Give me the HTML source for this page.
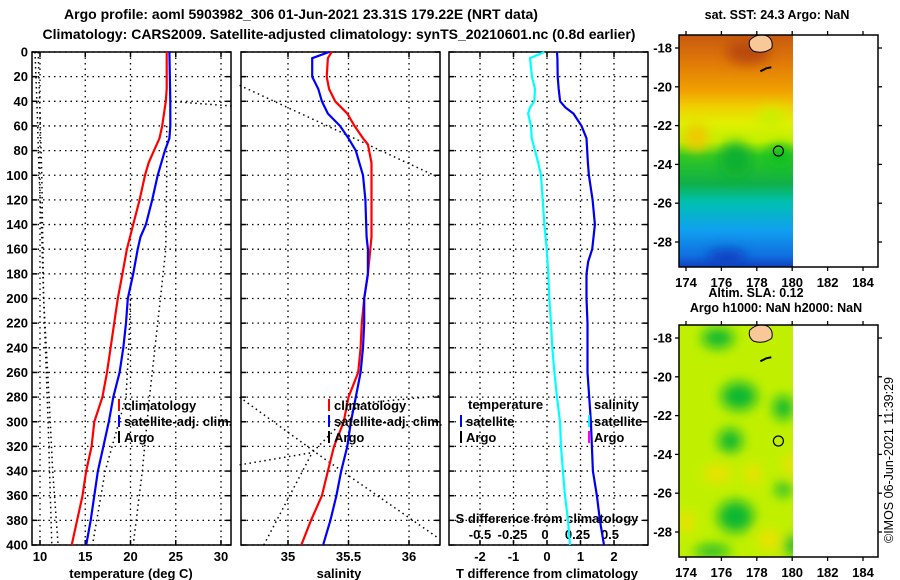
<!DOCTYPE html>
<html><head><meta charset="utf-8"><style>
html,body{margin:0;padding:0;background:#fff}
svg{display:block;font-family:"Liberation Sans",Arial,sans-serif;font-weight:bold}
</style></head><body>
<svg id="c" width="900" height="580" viewBox="0 0 900 580" xmlns="http://www.w3.org/2000/svg">
<defs>
<filter id="blr" x="-50%" y="-50%" width="200%" height="200%"><feGaussianBlur stdDeviation="6"/></filter>
<clipPath id="m1clip"><rect x="679" y="35" width="114" height="232"/></clipPath>
<clipPath id="m2clip"><rect x="679" y="325" width="114" height="232"/></clipPath>
<linearGradient id="sstg" x1="0" y1="0" x2="0" y2="1">
<stop offset="0" stop-color="#c85a10"/><stop offset="0.12" stop-color="#e07a08"/><stop offset="0.24" stop-color="#f0a000"/>
<stop offset="0.31" stop-color="#f0d000"/><stop offset="0.38" stop-color="#e0f000"/><stop offset="0.46" stop-color="#c0f000"/>
<stop offset="0.52" stop-color="#30c820"/><stop offset="0.64" stop-color="#10b048"/><stop offset="0.72" stop-color="#00c0b0"/>
<stop offset="0.84" stop-color="#10a0f0"/><stop offset="0.95" stop-color="#1070e0"/><stop offset="1" stop-color="#1040c0"/></linearGradient>
</defs>
<text x="301" y="19" text-anchor="middle" font-size="14">Argo profile: aoml 5903982_306 01-Jun-2021 23.31S 179.22E (NRT data)</text>
<text x="339" y="39" text-anchor="middle" font-size="14">Climatology: CARS2009. Satellite-adjusted climatology: synTS_20210601.nc (0.8d earlier)</text>
<g id="plots"></g>
<g id="maps"></g>
</svg>
<script>
// ---- data ----
const depthTicks = [0,20,40,60,80,100,120,140,160,180,200,220,240,260,280,300,320,340,360,380,400];
const tempTicks = [10,15,20,25,30];
const salTicks = [35,35.5,36];
const salTickLabels = ["35","35.5","36"];
const tdiffTicks = [-2,-1,0,1,2];
const sdiffTicks = [-0.5,-0.25,0,0.25,0.5];
const sdiffTickLabels = ["-0.5","-0.25","0","0.25","0.5"];

const tClimDepth = [0,30,40,50,60,70,80,90,100,120,140,160,180,200,220,240,260,280,300,320,340,360,380,400];
const tClim      = [24.0,24.0,23.9,23.7,23.5,23.2,22.6,22.0,21.6,21.0,20.3,19.6,19.1,18.6,18.2,17.8,17.4,16.9,16.0,15.7,15.1,14.7,14.1,13.5];
const tSatDepth  = [0,40,60,70,80,100,120,140,150,160,180,200,220,240,260,280,300,320,340,360,380,400];
const tSat       = [24.3,24.4,24.4,24.3,23.8,23.0,22.4,21.7,21.1,20.8,20.3,19.7,19.5,19.2,18.8,18.1,17.6,17.0,16.4,16.0,15.6,15.1];

const sClimDepth = [0,5,20,30,40,50,60,70,75,90,150,160,180,200,220,240,260,280,300,320,340,360,380,400];
const sClim      = [35.36,35.33,35.32,35.34,35.39,35.49,35.55,35.62,35.66,35.69,35.69,35.68,35.66,35.63,35.61,35.60,35.58,35.50,35.46,35.38,35.33,35.28,35.19,35.11];
const sSatDepth  = [0,5,20,30,40,50,60,70,80,100,120,150,160,180,200,220,240,260,280,300,320,340,360,380,400];
const sSat       = [35.34,35.20,35.20,35.25,35.28,35.33,35.43,35.50,35.56,35.62,35.64,35.65,35.66,35.66,35.63,35.63,35.62,35.60,35.56,35.52,35.49,35.44,35.40,35.35,35.29];

const dDepth = [0,5,20,30,40,45,50,60,70,80,90,100,120,140,160,170,180,200,220,240,260,280,300,320,340,360,380,400];
const tDiff  = [0.30,0.31,0.32,0.35,0.39,0.55,0.79,1.03,1.18,1.20,1.22,1.25,1.36,1.43,1.35,1.23,1.18,1.18,1.21,1.21,1.21,1.26,1.31,1.34,1.37,1.49,1.58,1.70];
const sDiff  = [-0.005,-0.115,-0.10,-0.077,-0.082,-0.115,-0.13,-0.108,-0.102,-0.077,-0.052,-0.031,-0.018,-0.005,0.013,0.019,0.025,0.033,0.046,0.056,0.072,0.092,0.115,0.123,0.138,0.154,0.177,0.192];

// dotted reference profiles
const tDot1Depth = [0,50,100,150,200,280,340,400];
const tDot1      = [9.45,9.7,9.9,10.2,10.4,11.0,11.4,12.0];
const tDot5Depth = [0,100,200,300,400];
const tDot5      = [9.8,10.2,10.4,10.9,11.3];
const tDot2Depth = [40,42,44];
const tDot2      = [24.4,28,31.5];
const tDot3Depth = [60,100,160,220,280,340,400];
const tDot3      = [24.0,24.0,23.9,23.0,22.1,21.3,20.3];
const tDot4Depth = [200,240,280,340,400];
const tDot4      = [20.0,19.8,19.5,17.2,15.8];
const sDot1Depth = [27,102];
const sDot1      = [34.6,36.25];
const sDot2Depth = [280,330,395];
const sDot2      = [34.6,35.3,36.25];
const sDot3Depth = [335,325,285,279];
const sDot3      = [34.6,35.2,35.6,36.25];
const sDot4Depth = [400,325];
const sDot4      = [34.8,35.2];

// ---- axes ----
const Y0 = 52, YS = 1.2325;
const yD = d => Y0 + d*YS;
const xT = t => 40 + (t-10)*9.05;
const xS = s => 288 + (s-35)*121;
const xTD = t => 547 + t*33.5;
const xSD = s => 545 + s*130;

const NS = "http://www.w3.org/2000/svg";
const plots = document.getElementById('plots');
function el(tag, attrs, parent, txt){
  const e = document.createElementNS(NS, tag);
  for (const k in attrs) e.setAttribute(k, attrs[k]);
  if (txt !== undefined) e.textContent = txt;
  (parent||plots).appendChild(e);
  return e;
}
function line(xs, ds, fx, color, w, dash, name){
  const pts = xs.map((v,i)=>fx(v).toFixed(1)+","+yD(ds[i]).toFixed(1)).join(" ");
  const p = el('polyline',{points:pts,fill:'none',stroke:color,'stroke-width':w});
  if (dash) p.setAttribute('stroke-dasharray', dash);
  
  
  return p;
}
const panels = [{x0:32,x1:231,n:'temperature'},{x0:241,x1:440,n:'salinity'},{x0:449,x1:648,n:'difference'}];
panels.forEach(p=>{
  const g = el('g',{});
  
  
  depthTicks.forEach(d=>{
    const y = yD(d);
    el('line',{x1:p.x0,x2:p.x1,y1:y,y2:y,stroke:'#000','stroke-width':1.3,'stroke-dasharray':'1.5 4'},g);
    el('line',{x1:p.x0,x2:p.x0+5,y1:y,y2:y,stroke:'#000','stroke-width':1.5},g);
    el('line',{x1:p.x1-5,x2:p.x1,y1:y,y2:y,stroke:'#000','stroke-width':1.5},g);
  });
  el('rect',{x:p.x0,y:Y0,width:p.x1-p.x0,height:yD(400)-Y0,fill:'none',stroke:'#000','stroke-width':1.5},g);
});
depthTicks.forEach(d=>{
  const t = el('text',{x:28,y:yD(d)+4.5,'text-anchor':'end','font-size':13},plots,String(d));
  
  
});
function vgrid(ticks, fx){
  ticks.forEach(v=>{
    const x = fx(v);
    el('line',{x1:x,x2:x,y1:Y0,y2:yD(400),stroke:'#000','stroke-width':1.3,'stroke-dasharray':'1.5 4'});
    el('line',{x1:x,x2:x,y1:Y0,y2:Y0+5,stroke:'#000','stroke-width':1.5});
    el('line',{x1:x,x2:x,y1:yD(400)-5,y2:yD(400),stroke:'#000','stroke-width':1.5});
  });
}
vgrid(tempTicks,xT); vgrid(salTicks,xS); vgrid(tdiffTicks,xTD);
tempTicks.forEach(v=>{ const t=el('text',{x:xT(v),y:561,'text-anchor':'middle','font-size':13},plots,String(v));  });
salTicks.forEach((v,i)=>{ const t=el('text',{x:xS(v),y:561,'text-anchor':'middle','font-size':13},plots,salTickLabels[i]);  });
tdiffTicks.forEach(v=>{ const t=el('text',{x:xTD(v),y:561,'text-anchor':'middle','font-size':13},plots,String(v));  });
sdiffTicks.forEach((v,i)=>{ const t=el('text',{x:xSD(v),y:539,'text-anchor':'middle','font-size':13},plots,sdiffTickLabels[i]);  });
[['temperature (deg C)',131,'temp-x-axis-title'],['salinity',339,'salinity-x-axis-title'],['T difference from climatology',547,'tdiff-x-axis-title'],['S difference from climatology',547,'sdiff-axis-title']].forEach((a,i)=>{
  const t = el('text',{x:a[1],y:i==3?523:578,'text-anchor':'middle','font-size':13},plots,a[0]);
   
});

// dotted profiles
const DOT='1.5 3.5';
line(tDot1,tDot1Depth,xT,'#000',1.5,DOT,'temp-dotted-ref-1');
line(tDot5,tDot5Depth,xT,'#000',1.5,DOT,'temp-dotted-ref-5');
line(tDot2,tDot2Depth,xT,'#000',1.5,DOT,'temp-dotted-ref-2');
line(tDot3,tDot3Depth,xT,'#000',1.5,DOT,'temp-dotted-ref-3');
line(tDot4,tDot4Depth,xT,'#000',1.5,DOT,'temp-dotted-ref-4');
line(sDot1,sDot1Depth,xS,'#000',1.5,DOT,'sal-dotted-ref-1');
line(sDot2,sDot2Depth,xS,'#000',1.5,DOT,'sal-dotted-ref-2');
line(sDot3,sDot3Depth,xS,'#000',1.5,DOT,'sal-dotted-ref-3');
line(sDot4,sDot4Depth,xS,'#000',1.5,DOT,'sal-dotted-ref-4');

// series
line(tClim,tClimDepth,xT,'#ff0000',2.2,null,'temp-climatology-line');
line(tSat,tSatDepth,xT,'#0000ff',2.2,null,'temp-satellite-line');
line(sClim,sClimDepth,xS,'#ff0000',2.2,null,'salinity-climatology-line');
line(sSat,sSatDepth,xS,'#0000ff',2.2,null,'salinity-satellite-line');
line(sDiff,dDepth,xSD,'#00ffff',2.2,null,'sdiff-satellite-line');
line(tDiff,dDepth,xTD,'#0000ee',2.2,null,'tdiff-satellite-line');

// legends
function leg(x,y,color,label,name){
  el('line',{x1:x,x2:x,y1:y-11,y2:y+1,stroke:color,'stroke-width':2});
  const t = el('text',{x:x+5,y:y,'font-size':13},plots,label);
   
}
leg(119,410,'#ff0000','climatology','temp-legend-climatology');
leg(119,426,'#0000ff','satellite-adj. clim.','temp-legend-satellite');
leg(119,442,'#000','Argo','temp-legend-argo');
leg(329,410,'#ff0000','climatology','sal-legend-climatology');
leg(329,426,'#0000ff','satellite-adj. clim.','sal-legend-satellite');
leg(329,442,'#000','Argo','sal-legend-argo');
{const t=el('text',{x:468,y:409,'font-size':13},plots,'temperature');  }
{const t=el('text',{x:594,y:409,'font-size':13},plots,'salinity');  }
leg(461,426,'#0000ff','satellite','diff-legend-t-satellite');
leg(461,442,'#000','Argo','diff-legend-t-argo');
leg(589,426,'#00ffff','satellite','diff-legend-s-satellite');
leg(589,442,'#ff00ff','Argo','diff-legend-s-argo');

// ---- maps ----
const maps = document.getElementById('maps');
const latTicks = [-18,-20,-22,-24,-26,-28];
const lonTicks = [174,176,178,180,182,184];
const xL = lon => 686 + (lon-174)*17.7;
function map(top, clip, name, isSST){
  const g = el('g',{},maps);
  
  
  const yL = lat => top + 13 + (-18-lat)*19.4;
  const c = el('g',{'clip-path':'url(#'+clip+')'},g);
  if (isSST){
    el('rect',{x:679,y:top,width:114,height:232,fill:'url(#sstg)'},c);
    const b = el('g',{filter:'url(#blr)'},c);
    el('ellipse',{cx:xL(176.8),cy:yL(-23.8),rx:16,ry:18,fill:'#10b030'},b);
    el('ellipse',{cx:xL(179.3),cy:yL(-23.6),rx:14,ry:12,fill:'#10c020'},b);
    el('ellipse',{cx:xL(174.6),cy:yL(-22.6),rx:12,ry:14,fill:'#f0c800'},b);
    el('ellipse',{cx:xL(178.8),cy:yL(-21.6),rx:14,ry:10,fill:'#c8f000'},b);
    el('ellipse',{cx:xL(177.5),cy:yL(-18.2),rx:22,ry:12,fill:'#b84a10'},b);
    el('ellipse',{cx:xL(176.3),cy:yL(-28.8),rx:20,ry:8,fill:'#1040c0'},b);
  } else {
    el('rect',{x:679,y:top,width:114,height:232,fill:'#c0f000'},c);
    const b = el('g',{filter:'url(#blr)'},c);
    [[177,-21,18,14],[176.5,-23.3,12,12],[179.5,-21.6,10,12],[176.8,-27.2,18,16],[175.5,-29,18,6],[180,-28.7,8,10],[175.8,-18,16,10],[179.5,-25.8,8,7]].forEach(a=>el('ellipse',{cx:xL(a[0]),cy:yL(a[1]),rx:a[2],ry:a[3],fill:'#10b830'},b));
    [[175.8,-25,14,8],[177.8,-25,8,10],[178.7,-28.4,10,10],[174,-27.5,8,10],[180,-24.5,8,10]].forEach(a=>el('ellipse',{cx:xL(a[0]),cy:yL(a[1]),rx:a[2],ry:a[3],fill:'#f0e000'},b));
  }
  const isl = el('path',{d:`M${xL(177.6)},${yL(-17.6)} q8,-8 18,-4 q6,4 4,12 q-8,6 -18,3 q-6,-4 -4,-11z`,fill:'#f8c898',stroke:'#000','stroke-width':1},g);
   
  el('path',{d:`M${xL(178.2)},${yL(-19.2)} l6,-3 l5,-1`,fill:'none',stroke:'#000','stroke-width':2},g);
  el('circle',{cx:xL(179.22),cy:yL(-23.31),r:5,fill:'none',stroke:'#000','stroke-width':1.2},g);
  el('rect',{x:679,y:top,width:199,height:232,fill:'none',stroke:'#000','stroke-width':1.5},g);
  latTicks.forEach(l=>{ const y=yL(l);
    el('line',{x1:679,x2:675,y1:y,y2:y,stroke:'#000','stroke-width':1.3},g);
    el('line',{x1:878,x2:882,y1:y,y2:y,stroke:'#000','stroke-width':1.3},g);
    const t=el('text',{x:672,y:y+4.5,'text-anchor':'end','font-size':13},g,String(l));  });
  lonTicks.forEach(l=>{ const x=xL(l);
    el('line',{x1:x,x2:x,y1:top,y2:top-4,stroke:'#000','stroke-width':1.3},g);
    el('line',{x1:x,x2:x,y1:top+232,y2:top+236,stroke:'#000','stroke-width':1.3},g);
    const t=el('text',{x:x,y:top+252,'text-anchor':'middle','font-size':13},g,String(l));  });
}
map(35,'m1clip','sst-map',true);
map(325,'m2clip','sla-map',false);
[['sat. SST: 24.3 Argo: NaN',777,19,'sst-map-title'],['Altim. SLA: 0.12',756,297,'sla-label'],['Argo h1000: NaN h2000: NaN',776,312,'sla-map-title']].forEach(a=>{
  const t=el('text',{x:a[1],y:a[2],'text-anchor':'middle','font-size':12.5},maps,a[0]);  });
{const t=el('text',{x:0,y:0,'text-anchor':'middle','font-size':12.5,'font-weight':'normal',transform:'translate(893,460) rotate(-90)'},maps,'©IMOS 06-Jun-2021 11:39:29');  }
</script>
</body></html>
